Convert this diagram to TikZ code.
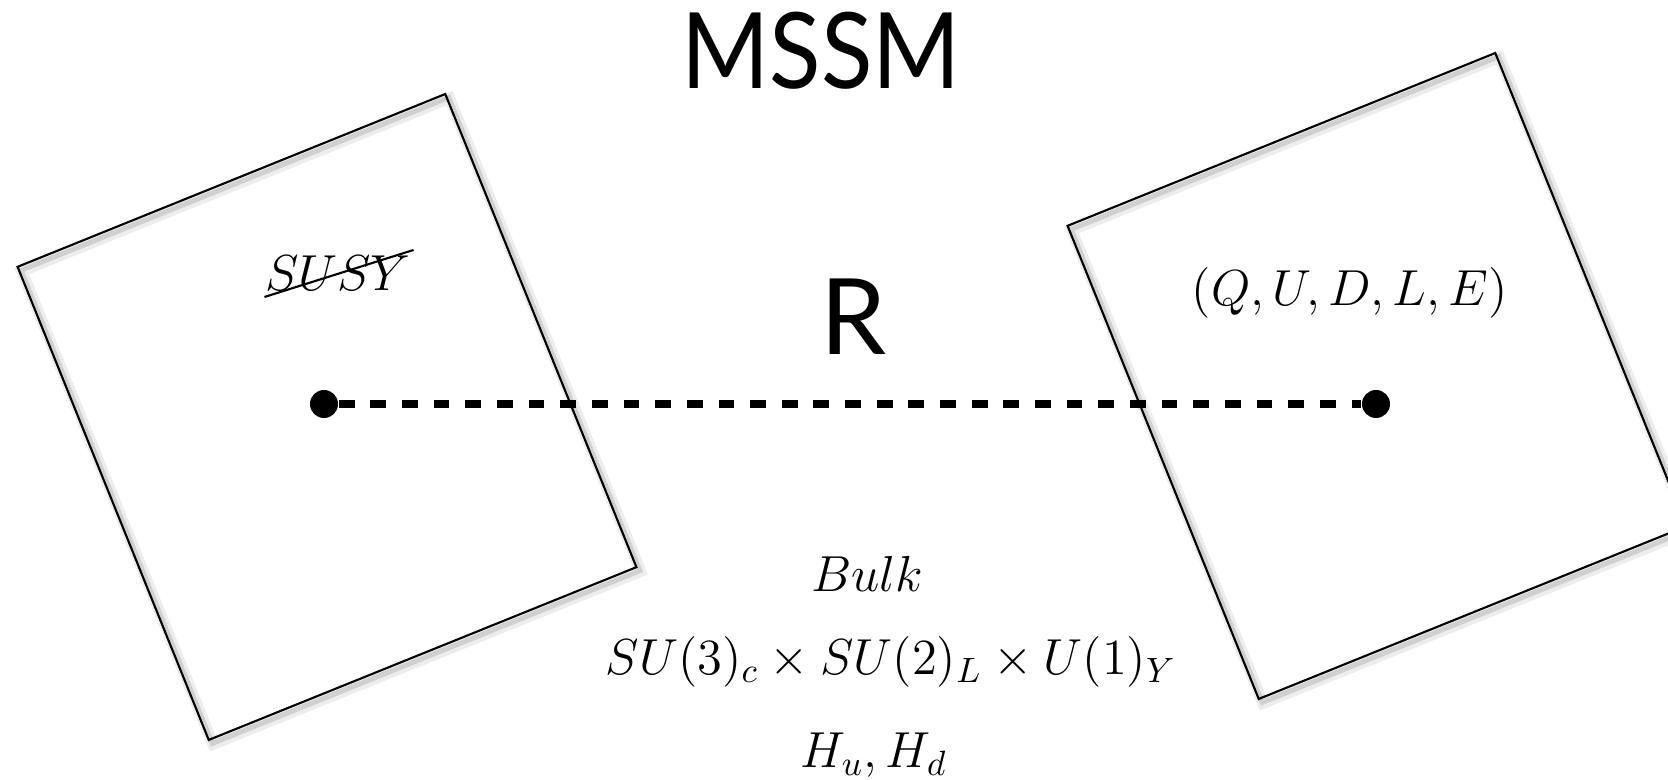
\documentclass[tikz,border=0pt]{standalone}
\usepackage{amsmath}
\usepackage{fontspec}
\newfontfamily\titlefont{Lato}
\usetikzlibrary{shadows}

\begin{document}
\begin{tikzpicture}[
    x=0.01cm,y=-0.01cm,
    brane/.style={draw,line width=0.6pt,rotate=22,
                  minimum width=4.61cm,minimum height=5.1cm,
                  drop shadow={fill=none,draw=black,opacity=0.07,line width=3.2pt,
                               shadow xshift=1.2pt,shadow yshift=-1.2pt},
                  drop shadow={fill=none,draw=black,opacity=0.12,line width=1.4pt,
                               shadow xshift=1pt,shadow yshift=-1pt}},
    dot/.style={circle,fill=black,inner sep=0pt,minimum size=0.28cm},
    prop/.style={line width=2pt,dash pattern=on 4.5pt off 4.5pt},
    lbl/.style={font=\Large,inner sep=0pt},
    big/.style={font=\titlefont\fontsize{30}{36}\selectfont,inner sep=0pt}
  ]
    \clip (0,0) rectangle (1668,780);
    \fill[white] (0,0) rectangle (1668,780);
    \node[brane] (lbrane) at (327,417) {};
    \node[brane] (rbrane) at (1377,376) {};
    \node[big] (title) at (821,51) {\scalebox{0.9}[1]{MSSM}};
    \node[big] (dist) at (854,317) {R};
    \node[lbl] (susy) at (338,273) {$SUSY$};
    \draw[line width=0.6pt] ([shift={(0,6)}]susy.south west) -- ([shift={(2,-5)}]susy.north east);
    \node[lbl] (matter) at (1350,293) {$(Q,U,D,L,E)$};
    \node[dot] (ldot) at (324,404) {};
    \node[dot] (rdot) at (1376,404) {};
    \draw[prop] (ldot) -- (rdot);
    \node[lbl] (bulk) at (867,574) {$Bulk$};
    \node[lbl] (gauge) at (891,662) {$SU(3)_c\times SU(2)_L\times U(1)_Y$};
    \node[lbl,anchor=base] (higgs) at (874,768) {$H_u,H_d$};
\end{tikzpicture}
\end{document}
